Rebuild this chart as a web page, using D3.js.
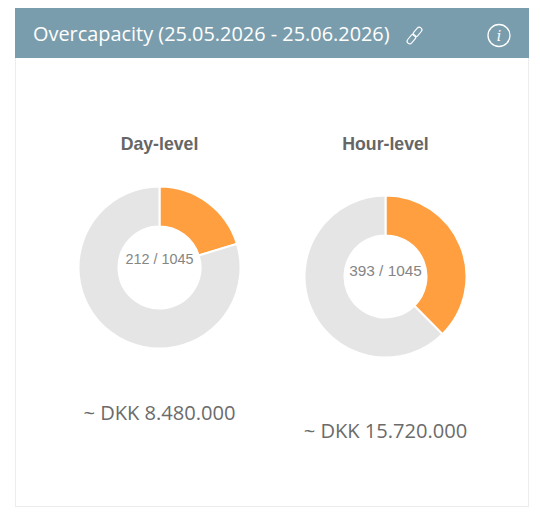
<!DOCTYPE html>
<html>
<head>
<meta charset="utf-8">
<script src="https://cdn.jsdelivr.net/npm/d3@7"></script>
<style>
  html, body { margin: 0; padding: 0; background: #fff; }
  svg { display: block; }
</style>
</head>
<body>
<svg id="chart"></svg>
<script>
var chartTitle = 'Overcapacity (25.05.2026 - 25.06.2026)'
var chartNames = ['Day-level', 'Hour-level']
var usedValues = [212, 393]
var totalValues = [1045, 1045]
var amountLabels = ['~ DKK 8.480.000', '~ DKK 15.720.000']

var width = 540,
    height = 519

var svg = d3.select('#chart')
            .attr('width', width)
            .attr('height', height)

// card
svg.append('rect')
  .attr('x', 15.5).attr('y', 8.5)
  .attr('width', 513).attr('height', 498)
  .attr('fill', '#fff')
  .attr('stroke', '#ececec')

svg.append('rect')
  .attr('x', 15).attr('y', 8)
  .attr('width', 514).attr('height', 50)
  .attr('fill', '#7a9dad')

svg.append('text')
  .attr('x', 33).attr('y', 41)
  .attr('fill', '#fff')
  .style('font-family', '"Open Sans"')
  .style('font-size', '19.9px')
  .text(chartTitle)

// link icon
var link = svg.append('g')
  .attr('transform', 'translate(414.5,35.5) rotate(-50)')
  .attr('fill', 'none')
  .attr('stroke', '#fff')
  .attr('stroke-width', 1.1)
link.append('rect').attr('x', -10).attr('y', -2.6).attr('width', 10.5).attr('height', 5.2).attr('rx', 2.6)
link.append('rect').attr('x', -0.5).attr('y', -2.6).attr('width', 10.5).attr('height', 5.2).attr('rx', 2.6)

// info icon
svg.append('circle')
  .attr('cx', 499).attr('cy', 35.5).attr('r', 11)
  .attr('fill', 'none')
  .attr('stroke', '#fff')
  .attr('stroke-width', 1.3)

svg.append('text')
  .attr('x', 499).attr('y', 40.5)
  .attr('text-anchor', 'middle')
  .attr('fill', '#fff')
  .style('font-family', '"DejaVu Serif"')
  .style('font-style', 'italic')
  .style('font-size', '14px')
  .text('i')

// donuts
var centerX = d3.scalePoint().domain(chartNames).range([159.5, 385.5])
var centerY = d3.scaleOrdinal().domain(chartNames).range([267.5, 276.5])
var titleY = d3.scaleOrdinal().domain(chartNames).range([150, 150])
var amountY = d3.scaleOrdinal().domain(chartNames).range([420, 438])
var labelY = d3.scaleOrdinal().domain(chartNames).range([260.5, 271.5])
var labelSize = d3.scaleOrdinal().domain(chartNames).range([14.4, 15.4])

var pie = d3.pie().sort(null).value((d) => d.value)
var arc = d3.arc().innerRadius(41).outerRadius(81)
var sliceColor = d3.scaleOrdinal().domain(['used', 'rest']).range(['#ff9f40', '#e5e5e5'])

chartNames.forEach(function(name, i) {
  var slices = [
    {key: 'used', value: usedValues[i]},
    {key: 'rest', value: totalValues[i] - usedValues[i]}
  ]

  var g = svg.append('g')
    .attr('transform', `translate(${centerX(name)}, ${centerY(name)})`)

  g.selectAll('path')
    .data(pie(slices))
    .enter()
    .append('path')
    .attr('d', arc)
    .attr('fill', (d) => sliceColor(d.data.key))
    .attr('stroke', '#fff')
    .attr('stroke-width', 2)

  svg.append('text')
    .attr('x', centerX(name))
    .attr('y', labelY(name))
    .attr('text-anchor', 'middle')
    .attr('dominant-baseline', 'middle')
    .attr('fill', '#858585')
    .style('font-family', '"Liberation Sans"')
    .style('font-size', labelSize(name) + 'px')
    .text(`${usedValues[i]} / ${totalValues[i]}`)

  svg.append('text')
    .attr('x', centerX(name))
    .attr('y', titleY(name))
    .attr('text-anchor', 'middle')
    .attr('fill', '#666')
    .style('font-family', '"Liberation Sans"')
    .style('font-weight', 'bold')
    .style('font-size', '17.7px')
    .text(name)

  svg.append('text')
    .attr('x', centerX(name))
    .attr('y', amountY(name))
    .attr('text-anchor', 'middle')
    .attr('fill', '#6b6b6b')
    .style('font-family', '"Open Sans"')
    .style('font-size', '20.1px')
    .text(amountLabels[i])
})
</script>
</body>
</html>
